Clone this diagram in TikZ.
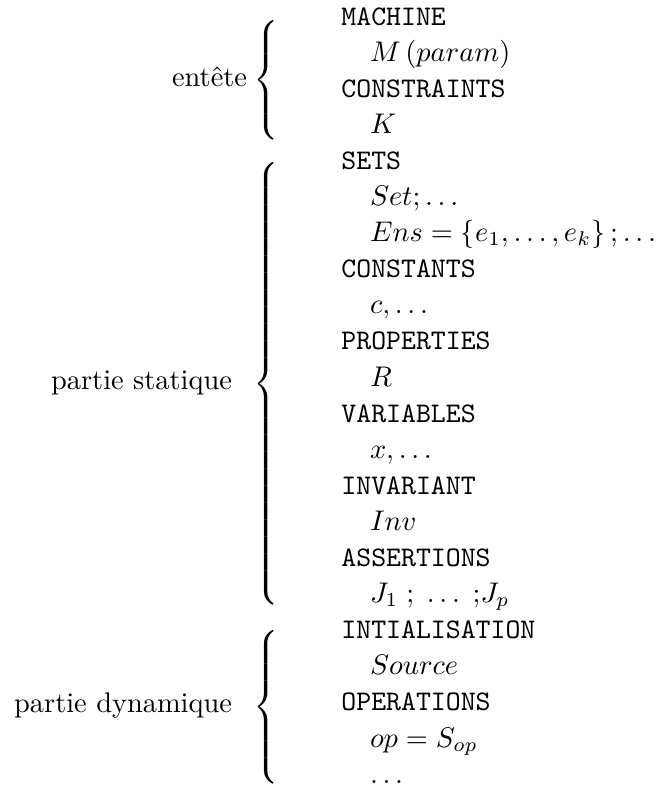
\documentclass[tikz,border=0pt]{standalone}
% extensible left brace of (at least) the given height, centred on the math axis
\newcommand\bracebox[1]{$\delimiterfactor=1000 \delimitershortfall=0pt
  \left\{\vcenter{\hbox{\rule{0pt}{#1}}}\right.$}
\begin{document}
\begin{tikzpicture}[x=0.3521pt,y=-0.3521pt,
  kw/.style={anchor=base west,inner sep=0pt,outer sep=0pt,font=\ttfamily},
  arg/.style={anchor=base west,inner sep=0pt,outer sep=0pt},
  part/.style={anchor=base east,inner sep=0pt,outer sep=0pt},
  bracenode/.style={anchor=west,inner sep=0pt,outer sep=0pt}]
\useasboundingbox (0,0) rectangle (658,790);

% clause keywords and their contents
\node[kw]  (machine)  at (341.5,25)    {MACHINE};
\node[arg] (name)     at (370,61.1)    {$M\,(param)$};
\node[kw]  (constr)   at (341.5,97.2)  {CONSTRAINTS};
\node[arg] (k)        at (370,133.3)   {$K$};
\node[kw]  (sets)     at (341.5,169.4) {SETS};
\node[arg] (set)      at (370,205.5)   {$Set;\ldots$};
\node[arg] (ens)      at (370,241.6)   {$Ens=\{e_1,\ldots,e_k\}\,;\ldots$};
\node[kw]  (consts)   at (341.5,277.7) {CONSTANTS};
\node[arg] (c)        at (370,313.8)   {$c,\ldots$};
\node[kw]  (props)    at (341.5,349.9) {PROPERTIES};
\node[arg] (r)        at (370,386)     {$R$};
\node[kw]  (vars)     at (341.5,422.1) {VARIABLES};
\node[arg] (x)        at (370,458.2)   {$x,\ldots$};
\node[kw]  (inv)      at (341.5,494.3) {INVARIANT};
\node[arg] (invv)     at (370,530.4)   {$Inv$};
\node[kw]  (assert)   at (341.5,566.5) {ASSERTIONS};
\node[arg] (j)        at (370,602.6)   {$J_1\;{;}\;\ldots\;{;}J_p$};
\node[kw]  (init)     at (341.5,638.7) {INTIALISATION};
\node[arg] (src)      at (370,674.8)   {$Source$};
\node[kw]  (ops)      at (341.5,710.9) {OPERATIONS};
\node[arg] (op)       at (370,747)     {$op=S_{op}$};
\node[arg] (more)     at (370,783.1)   {$\ldots$};

% braces grouping the clauses
\node[bracenode] (b1) at (253.5,80)  {\bracebox{41pt}};
\node[bracenode] (b2) at (253.5,384) {\bracebox{155pt}};
\node[bracenode] (b3) at (253.5,707) {\bracebox{53pt}};

% part names
\node[part] (head)   at (247,86)  {entête};
\node[part] (static) at (232,389) {partie statique};
\node[part] (dyn)    at (232,712) {partie dynamique};
\end{tikzpicture}
\end{document}
